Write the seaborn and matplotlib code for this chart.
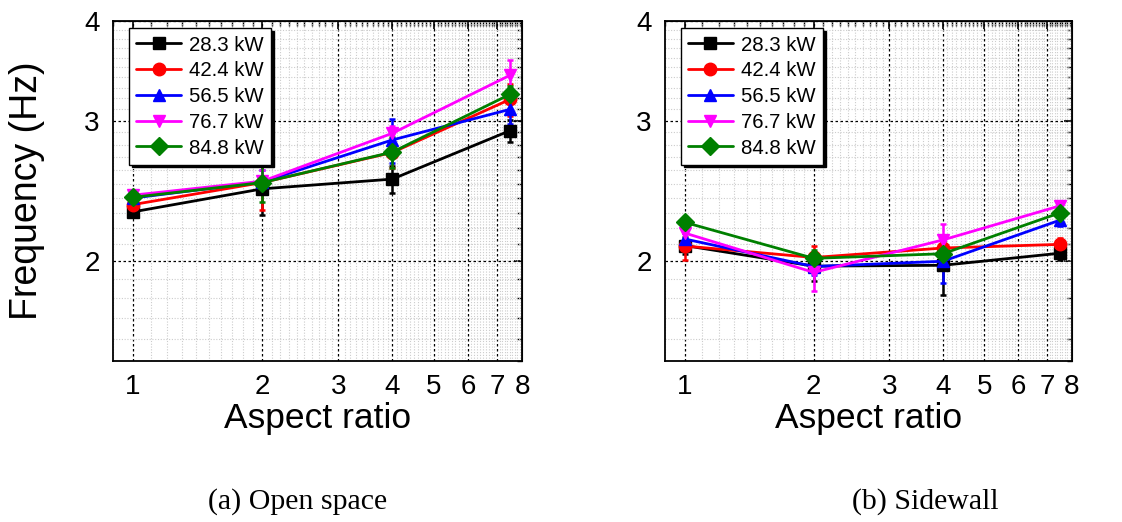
import numpy as np
import pandas as pd
import matplotlib
matplotlib.use("Agg")
import matplotlib.pyplot as plt
from matplotlib.ticker import FixedLocator, FixedFormatter, NullFormatter
import seaborn as sns

# Measured flapping frequency against aspect ratio for five heat release rates
aspect_ratio = [1, 2, 4, 7.5]
powers = ["28.3 kW", "42.4 kW", "56.5 kW", "76.7 kW", "84.8 kW"]

open_28 = [2.306, 2.465, 2.535, 2.915]
open_42 = [2.355, 2.510, 2.737, 3.190]
open_56 = [2.400, 2.515, 2.838, 3.100]
open_76 = [2.420, 2.520, 2.893, 3.420]
open_84 = [2.405, 2.510, 2.740, 3.237]

open_28_err = [0.03, 0.18, 0.10, 0.09]
open_42_err = [0.04, 0.19, 0.12, 0.15]
open_56_err = [0.05, 0.09, 0.18, 0.13]
open_76_err = [0.03, 0.08, 0.06, 0.15]
open_84_err = [0.03, 0.14, 0.12, 0.08]

side_28 = [2.093, 1.972, 1.977, 2.047]
side_42 = [2.090, 2.022, 2.078, 2.100]
side_56 = [2.133, 1.970, 2.000, 2.252]
side_76 = [2.170, 1.937, 2.127, 2.347]
side_84 = [2.238, 2.017, 2.044, 2.300]

side_28_err = [0.05, 0.08, 0.16, 0.04]
side_42_err = [0.08, 0.07, 0.05, 0.04]
side_56_err = [0.04, 0.05, 0.12, 0.04]
side_76_err = [0.04, 0.10, 0.10, 0.03]
side_84_err = [0.03, 0.05, 0.08, 0.04]

x_ticks = [1, 2, 3, 4, 5, 6, 7, 8]
x_tick_labels = ["1", "2", "3", "4", "5", "6", "7", "8"]
y_ticks = [2, 3, 4]
y_tick_labels = ["2", "3", "4"]

colors = ["#000000", "#ff0000", "#0000ff", "#ff00ff", "#008000"]
markers = ["s", "o", "^", "v", "D"]

sns.set_style("white")
plt.rcParams["font.family"] = ["Liberation Sans", "DejaVu Sans"]
plt.rcParams["text.color"] = "black"
plt.rcParams["axes.labelcolor"] = "black"
plt.rcParams["xtick.color"] = "black"
plt.rcParams["ytick.color"] = "black"


def long_table(series, errors):
    rows = []
    for p, vals, errs in zip(powers, series, errors):
        for x, v, e in zip(aspect_ratio, vals, errs):
            rows.append({"ratio": x, "freq": v, "err": e, "power": p})
    return pd.DataFrame(rows)


df_open = long_table([open_28, open_42, open_56, open_76, open_84],
                     [open_28_err, open_42_err, open_56_err, open_76_err, open_84_err])
df_side = long_table([side_28, side_42, side_56, side_76, side_84],
                     [side_28_err, side_42_err, side_56_err, side_76_err, side_84_err])

fig = plt.figure(figsize=(11.22, 5.22), dpi=100)
ax_a = fig.add_axes([113 / 1122, 1 - 361 / 522, 409 / 1122, 340 / 522])
ax_b = fig.add_axes([665 / 1122, 1 - 361 / 522, 407 / 1122, 340 / 522])

palette = dict(zip(powers, colors))
marker_map = dict(zip(powers, markers))

minor_x = [v / 10 for v in range(9, 80) if v % 10 != 0]
minor_y = [v / 10 for v in range(15, 40) if v % 10 != 0]

for ax, df in [(ax_a, df_open), (ax_b, df_side)]:
    ax.set_xscale("log")
    ax.set_yscale("log")
    sns.lineplot(data=df, x="ratio", y="freq", hue="power", style="power",
                 palette=palette, markers=marker_map, dashes=False,
                 markersize=9, linewidth=2.0, legend=False, ax=ax, zorder=3)
    for line in ax.lines:
        line.set_markeredgecolor(line.get_color())
        line.set_markeredgewidth(1.0)
    handles = list(ax.lines[:len(powers)])
    for p in powers:
        sub = df[df["power"] == p]
        ax.errorbar(sub["ratio"], sub["freq"], yerr=sub["err"], fmt="none",
                    ecolor=palette[p], elinewidth=1.8, capsize=2.5, capthick=1.8,
                    zorder=2)

    ax.set_xlim(0.9, 8.0)
    ax.set_ylim(1.5, 4.0)
    ax.xaxis.set_major_locator(FixedLocator(x_ticks))
    ax.xaxis.set_major_formatter(FixedFormatter(x_tick_labels))
    ax.xaxis.set_minor_locator(FixedLocator(minor_x))
    ax.xaxis.set_minor_formatter(NullFormatter())
    ax.yaxis.set_major_locator(FixedLocator(y_ticks))
    ax.yaxis.set_major_formatter(FixedFormatter(y_tick_labels))
    ax.yaxis.set_minor_locator(FixedLocator(minor_y))
    ax.yaxis.set_minor_formatter(NullFormatter())

    # outward ticks on bottom/left, inward mirrored ticks on top/right
    ax.tick_params(axis="both", which="major", labelsize=20, length=6, width=1.2,
                   direction="out", color="black")
    ax.tick_params(axis="both", which="minor", length=3.5, width=1.0,
                   direction="out", color="black")
    sec_x = ax.secondary_xaxis("top")
    sec_x.xaxis.set_major_locator(FixedLocator(x_ticks))
    sec_x.xaxis.set_minor_locator(FixedLocator(minor_x))
    sec_x.xaxis.set_major_formatter(NullFormatter())
    sec_x.xaxis.set_minor_formatter(NullFormatter())
    sec_x.tick_params(which="major", direction="in", length=6, width=1.2)
    sec_x.tick_params(which="minor", direction="in", length=3.5, width=1.0)
    sec_y = ax.secondary_yaxis("right")
    sec_y.yaxis.set_major_locator(FixedLocator(y_ticks))
    sec_y.yaxis.set_minor_locator(FixedLocator(minor_y))
    sec_y.yaxis.set_major_formatter(NullFormatter())
    sec_y.yaxis.set_minor_formatter(NullFormatter())
    sec_y.tick_params(which="major", direction="in", length=6, width=1.2)
    sec_y.tick_params(which="minor", direction="in", length=3.5, width=1.0)

    ax.grid(True, which="minor", color="#cccccc", linestyle=(0, (1, 1.5)), linewidth=0.8, zorder=0)
    ax.grid(True, which="major", color="black", linestyle=(0, (2, 2)), linewidth=0.9, zorder=1)
    ax.set_axisbelow(True)
    for s in ax.spines.values():
        s.set_color("black")
        s.set_linewidth(1.3)

    ax.set_xlabel("Aspect ratio", fontsize=25.5, labelpad=1)
    ax.set_ylabel("")

    leg = ax.legend(handles, powers, loc="upper left", bbox_to_anchor=(0.039, 0.978),
                    borderaxespad=0, fontsize=14.7, frameon=True, fancybox=False,
                    shadow={"color": "black", "alpha": 1.0}, edgecolor="black",
                    framealpha=1, handlelength=2.2, handletextpad=0.4,
                    labelspacing=0.33, borderpad=0.35)
    leg.get_frame().set_linewidth(1.0)
    leg.set_zorder(10)

ax_a.set_ylabel("Frequency (Hz)", fontsize=27)
ax_a.yaxis.set_label_coords(-0.166, 0.5)

fig.text(298 / 1122, 1 - 502 / 522, "(a) Open space", ha="center", va="center",
         fontsize=21.5, family=["Liberation Serif", "DejaVu Serif"])
fig.text(925 / 1122, 1 - 502 / 522, "(b) Sidewall", ha="center", va="center",
         fontsize=21.5, family=["Liberation Serif", "DejaVu Serif"])

fig.savefig("out.png", dpi=100)
